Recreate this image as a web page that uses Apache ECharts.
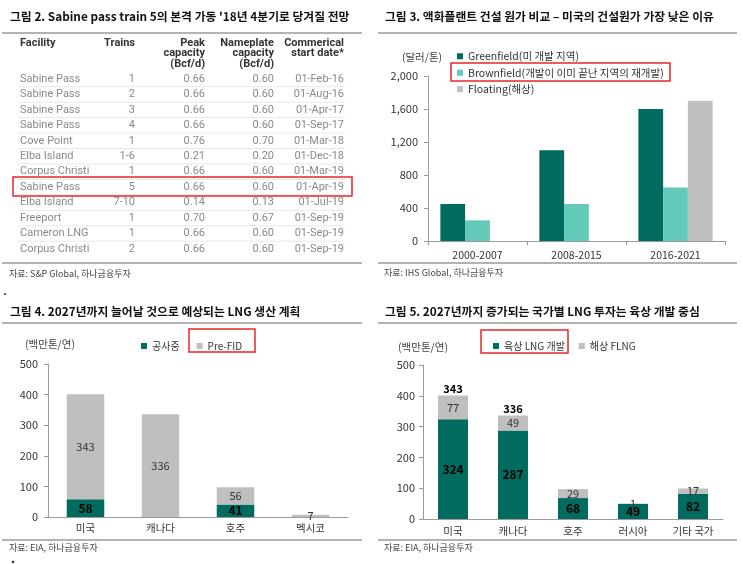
<!DOCTYPE html>
<html>
<head>
<meta charset="utf-8">
<script src="https://cdn.jsdelivr.net/npm/echarts@6/dist/echarts.min.js"></script>
<style>
html, body { margin: 0; padding: 0; background: #fff; }
#main { width: 743px; height: 564px; }
</style>
</head>
<body>
<div id="main"></div>
<script>
// 그림 2 - 표
const facilities = ['Sabine Pass', 'Sabine Pass', 'Sabine Pass', 'Sabine Pass', 'Cove Point', 'Elba Island',
  'Corpus Christi', 'Sabine Pass', 'Elba Island', 'Freeport', 'Cameron LNG', 'Corpus Christi']
const trains = ['1', '2', '3', '4', '1', '1-6', '1', '5', '7-10', '1', '1', '2']
const peakCapacity = ['0.66', '0.66', '0.66', '0.66', '0.76', '0.21', '0.66', '0.66', '0.14', '0.70', '0.66', '0.66']
const nameplateCapacity = ['0.60', '0.60', '0.60', '0.60', '0.70', '0.20', '0.60', '0.60', '0.13', '0.67', '0.60', '0.60']
const startDates = ['01-Feb-16', '01-Aug-16', '01-Apr-17', '01-Sep-17', '01-Mar-18', '01-Dec-18',
  '01-Mar-19', '01-Apr-19', '01-Jul-19', '01-Sep-19', '01-Sep-19', '01-Sep-19']

// 그림 3 - 건설 원가
const costPeriods = ['2000-2007', '2008-2015', '2016-2021']
const greenfield = [450, 1100, 1600]
const brownfield = [250, 450, 650]
const floating = ['-', '-', 1700]
const costTicks = [0, 400, 800, 1200, 1600, 2000]

// 그림 4 - LNG 생산 계획
const lngCountries = ['미국', '캐나다', '호주', '멕시코']
const underConstruction = [58, 0, 41, 0]
const preFid = [343, 336, 56, 7]

// 그림 5 - 국가별 LNG 투자
const investCountries = ['미국', '캐나다', '호주', '러시아', '기타 국가']
const onshore = [324, 287, 68, 49, 82]
const offshore = [77, 49, 29, 1, 17]
const investTotals = [343, 336, null, null, null]

const KR = "'Noto Sans CJK KR', 'Noto Sans', sans-serif"
const GREEN = '#006B5E'
const MINT = '#63C9B9'
const GRAY = '#BFBFBF'
const RED = '#E8262B'

const chart = echarts.init(document.getElementById('main'))

const txt = (text, x, y, opt = {}) => ({
  type: 'text', x, y, silent: true,
  style: {
    text, fill: opt.fill || '#222', font: opt.font || `11px ${KR}`,
    align: opt.align || 'left', verticalAlign: 'middle'
  }
})
const hline = (x1, x2, y, stroke = '#9a9a9a', lineWidth = 1.5) => ({
  type: 'line', silent: true, shape: { x1, y1: y, x2, y2: y }, style: { stroke, lineWidth }
})
const redBox = (x, y, width, height) => ({
  type: 'rect', silent: true, shape: { x, y, width, height },
  style: { fill: 'none', stroke: RED, lineWidth: 1.5 }
})

// 표 그리기
const tableEls = []
const headFont = `bold 11px Roboto, ${KR}`
const cellFont = `11px Roboto, ${KR}`
tableEls.push(txt('Facility', 20, 43, { font: headFont, fill: '#333' }))
tableEls.push(txt('Trains', 135, 43, { font: headFont, fill: '#333', align: 'right' }))
;['Peak', 'capacity', '(Bcf/d)'].forEach((t, i) =>
  tableEls.push(txt(t, 205, 43 + i * 10.5, { font: headFont, fill: '#333', align: 'right' })))
;['Nameplate', 'capacity', '(Bcf/d)'].forEach((t, i) =>
  tableEls.push(txt(t, 274, 43 + i * 10.5, { font: headFont, fill: '#333', align: 'right' })))
;['Commerical', 'start date*'].forEach((t, i) =>
  tableEls.push(txt(t, 344, 43 + i * 10.5, { font: headFont, fill: '#333', align: 'right' })))
facilities.forEach((f, i) => {
  const y = 79 + i * 15.45
  const c = { font: cellFont, fill: '#8a8a8a' }
  tableEls.push(txt(f, 20, y, c))
  tableEls.push(txt(trains[i], 135, y, { ...c, align: 'right' }))
  tableEls.push(txt(peakCapacity[i], 205, y, { ...c, align: 'right' }))
  tableEls.push(txt(nameplateCapacity[i], 274, y, { ...c, align: 'right' }))
  tableEls.push(txt(startDates[i], 344, y, { ...c, align: 'right' }))
  if (i < facilities.length - 1) tableEls.push(hline(18, 345, y + 7.7, '#e8e8e8', 1))
})

const titleFont = `bold 11.8px ${KR}`
const srcFont = `9px ${KR}`

const yAxisBase = {
  type: 'value',
  splitLine: { show: false },
  axisLine: { show: true, lineStyle: { color: '#9a9a9a' } },
  axisTick: { show: true, length: 4, lineStyle: { color: '#9a9a9a' } },
  axisLabel: { color: '#333', fontSize: 11, fontFamily: KR, margin: 10 }
}
const xAxisBase = {
  type: 'category',
  axisLine: { lineStyle: { color: '#9a9a9a' } },
  axisTick: { show: false },
  axisLabel: { color: '#333', fontSize: 10.5, fontFamily: KR }
}
const grayLabel = {
  show: true, position: 'inside', color: '#333', fontSize: 11, fontFamily: KR,
  formatter: p => (p.value ? p.value : '')
}
const greenLabel = {
  show: true, position: 'inside', color: '#000', fontSize: 12, fontWeight: 'bold', fontFamily: KR,
  formatter: p => (p.value ? p.value : '')
}
const legendBase = {
  itemWidth: 6, itemHeight: 6, icon: 'rect', selectedMode: false,
  textStyle: { color: '#333', fontSize: 10, fontFamily: KR }
}

const option = {
  animation: false,
  backgroundColor: '#fff',
  grid: [
    { left: 428, right: 18, top: 76, bottom: 323 },
    { left: 48, right: 395, top: 364, bottom: 47 },
    { left: 423, right: 20, top: 365, bottom: 45 }
  ],
  legend: [
    {
      ...legendBase,
      data: ['Greenfield(미 개발 지역)', 'Brownfield(개발이 이미 끝난 지역의 재개발)', 'Floating(해상)'],
      orient: 'vertical', left: 452, top: 46, itemGap: 6,
      textStyle: { ...legendBase.textStyle, fontSize: 10.5 }
    },
    { ...legendBase, data: ['공사중', 'Pre-FID'], left: 136, top: 336, itemGap: 17 },
    { ...legendBase, data: ['육상 LNG 개발', '해상 FLNG'], left: 488, top: 336, itemGap: 14 }
  ],
  xAxis: [
    {
      ...xAxisBase, gridIndex: 0, data: costPeriods,
      axisTick: { show: true, length: 4, lineStyle: { color: '#9a9a9a' } },
      axisLabel: { ...xAxisBase.axisLabel, margin: 9 }
    },
    { ...xAxisBase, gridIndex: 1, data: lngCountries, axisLabel: { ...xAxisBase.axisLabel, margin: 6 } },
    { ...xAxisBase, gridIndex: 2, data: investCountries, axisLabel: { ...xAxisBase.axisLabel, margin: 7 } }
  ],
  yAxis: [
    {
      ...yAxisBase, gridIndex: 0, min: costTicks[0], max: costTicks[costTicks.length - 1], interval: 400,
      axisLabel: { ...yAxisBase.axisLabel, formatter: v => v.toLocaleString('en-US') }
    },
    { ...yAxisBase, gridIndex: 1, min: 0, max: 500, interval: 100 },
    { ...yAxisBase, gridIndex: 2, min: 0, max: 500, interval: 100, axisLabel: { ...yAxisBase.axisLabel, margin: 8 } }
  ],
  series: [
    {
      name: 'Greenfield(미 개발 지역)', type: 'bar', xAxisIndex: 0, yAxisIndex: 0,
      data: greenfield, itemStyle: { color: GREEN }, barGap: '0%', barCategoryGap: '25%'
    },
    {
      name: 'Brownfield(개발이 이미 끝난 지역의 재개발)', type: 'bar', xAxisIndex: 0, yAxisIndex: 0,
      data: brownfield, itemStyle: { color: MINT }, barGap: '0%', barCategoryGap: '25%'
    },
    {
      name: 'Floating(해상)', type: 'bar', xAxisIndex: 0, yAxisIndex: 0,
      data: floating, itemStyle: { color: GRAY }, barGap: '0%', barCategoryGap: '25%'
    },
    {
      name: '공사중', type: 'bar', stack: 'lng', xAxisIndex: 1, yAxisIndex: 1,
      data: underConstruction, itemStyle: { color: GREEN }, barWidth: '50%', label: greenLabel
    },
    {
      name: 'Pre-FID', type: 'bar', stack: 'lng', xAxisIndex: 1, yAxisIndex: 1,
      data: preFid, itemStyle: { color: GRAY }, barWidth: '50%', label: grayLabel
    },
    {
      name: '육상 LNG 개발', type: 'bar', stack: 'inv', xAxisIndex: 2, yAxisIndex: 2,
      data: onshore, itemStyle: { color: GREEN }, barWidth: '50%', label: greenLabel
    },
    {
      name: '해상 FLNG', type: 'bar', stack: 'inv', xAxisIndex: 2, yAxisIndex: 2,
      data: offshore, itemStyle: { color: GRAY }, barWidth: '50%', label: grayLabel
    },
    {
      name: '합계', type: 'bar', stack: 'inv', xAxisIndex: 2, yAxisIndex: 2,
      data: investTotals.map(t => (t == null ? '-' : 0)), barWidth: '50%',
      itemStyle: { color: 'transparent' },
      label: {
        show: true, position: 'top', distance: 1, color: '#000', fontSize: 11,
        fontWeight: 'bold', fontFamily: KR,
        formatter: p => investTotals[p.dataIndex]
      }
    }
  ],
  graphic: {
    elements: [
      // 그림 2
      txt("그림 2. Sabine pass train 5의 본격 가동 '18년 4분기로 당겨질 전망", 10, 17, { font: titleFont, fill: '#111' }),
      hline(2, 362, 33),
      ...tableEls,
      redBox(13, 177, 339, 19),
      hline(2, 362, 263),
      txt('자료: S&P Global, 하나금융투자', 9, 274, { font: srcFont, fill: '#444' }),
      // 그림 3
      txt('그림 3. 액화플랜트 건설 원가 비교 – 미국의 건설원가 가장 낮은 이유', 385, 17, { font: titleFont, fill: '#111' }),
      hline(378, 737, 33),
      txt('(달러/톤)', 422, 57, { align: 'center', fill: '#444', font: `10.5px ${KR}` }),
      redBox(451, 63, 219, 18),
      hline(378, 737, 263),
      txt('자료: IHS Global, 하나금융투자', 384, 273, { font: srcFont, fill: '#444' }),
      // 그림 4
      { type: 'circle', silent: true, shape: { cx: 5, cy: 294, r: 1 }, style: { fill: '#333' } },
      txt('그림 4. 2027년까지 늘어날 것으로 예상되는 LNG 생산 계획', 10, 312, { font: titleFont, fill: '#111' }),
      hline(2, 362, 323),
      txt('(백만톤/연)', 50, 344, { align: 'center', fill: '#444', font: `10.5px ${KR}` }),
      redBox(189, 329, 66, 23),
      hline(2, 362, 540),
      txt('자료: EIA, 하나금융투자', 9, 548, { font: srcFont, fill: '#444' }),
      { type: 'circle', silent: true, shape: { cx: 13, cy: 562, r: 1.3 }, style: { fill: '#333' } },
      // 그림 5
      txt('그림 5. 2027년까지 증가되는 국가별 LNG 투자는 육상 개발 중심', 385, 312, { font: titleFont, fill: '#111' }),
      hline(378, 737, 323),
      txt('(백만톤/연)', 423, 347, { align: 'center', fill: '#444', font: `10.5px ${KR}` }),
      redBox(481, 330, 87, 23),
      hline(378, 737, 540),
      txt('자료: EIA, 하나금융투자', 384, 548, { font: srcFont, fill: '#444' })
    ]
  }
}

chart.setOption(option)
</script>
</body>
</html>
